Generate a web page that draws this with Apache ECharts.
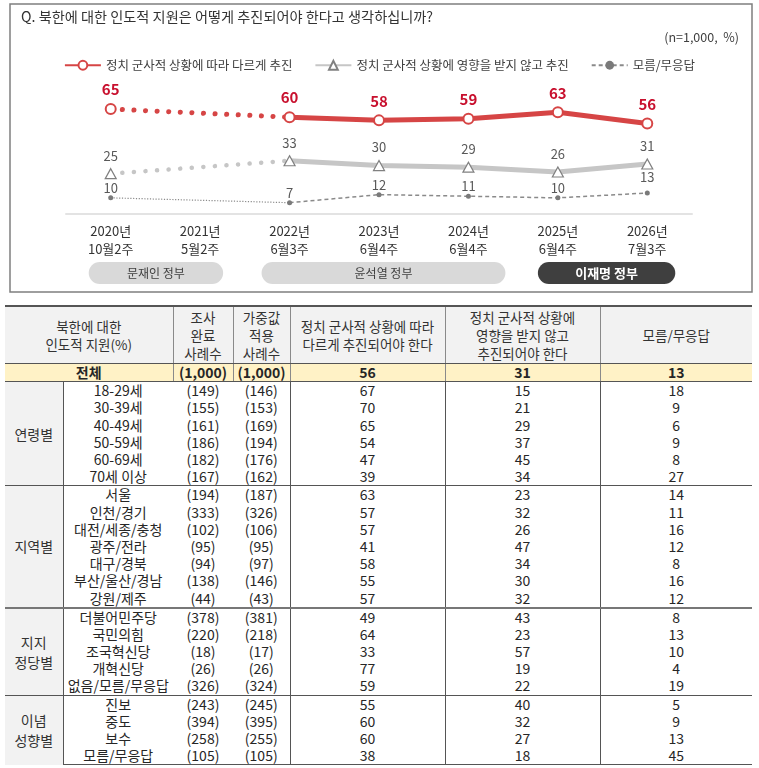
<!DOCTYPE html>
<html><head><meta charset="utf-8">
<script src="https://cdn.jsdelivr.net/npm/echarts@6/dist/echarts.min.js"></script>
<style>
html,body{margin:0;padding:0;background:#fff;width:759px;height:768px;overflow:hidden;font-family:'Noto Sans CJK KR','Noto Sans',sans-serif;}
#chart{position:absolute;left:0;top:0;width:759px;height:300px;}
#tbl{position:absolute;left:5px;top:305px;width:747px;border-collapse:collapse;table-layout:fixed;font-size:14px;color:#262626;}
#tbl td{padding:0;text-align:center;white-space:nowrap;overflow:hidden;line-height:17px;height:17.2px;}
#tbl tr.head td{background:#f2f2f2;line-height:18px;height:56px;border-top:2px solid #555;border-bottom:1.5px solid #555;border-left:1px solid #8a8a8a;color:#333;font-size:13.5px;}
#tbl tr.head td:first-child{border-left:none;}
#tbl tr.total td{background:#fff2c6;font-weight:bold;border-bottom:1px solid #555;border-left:1px solid #8a8a8a;}
#tbl tr.total td:first-child{border-left:none;}
#tbl td.grp{background:#f2f2f2;border-right:1px solid #555;line-height:20px;color:#333;}
#tbl td.sep{border-left:1px solid #555;}
#tbl tr.gstart td{border-top:1px solid #555;}
#tbl tr.gstart2 td{border-top:2px solid #777;}
#tbl tr.last td{border-bottom:1.5px solid #555;}
</style></head><body>
<div id="chart"></div>
<table id="tbl"><colgroup><col style="width:58px"><col style="width:110px"><col style="width:60px"><col style="width:57px"><col style="width:155px"><col style="width:155px"><col style="width:152px"></colgroup><tbody id="tb"></tbody></table>
<script>
// ---------- chart data ----------
const titleText = 'Q. 북한에 대한 인도적 지원은 어떻게 추진되어야 한다고 생각하십니까?';
const noteText = '(n=1,000,  %)';
const periods = ['2020년\n10월2주','2021년\n5월2주','2022년\n6월3주','2023년\n6월4주','2024년\n6월4주','2025년\n6월4주','2026년\n7월3주'];
const seriesNames = ['정치 군사적 상황에 따라 다르게 추진','정치 군사적 상황에 영향을 받지 않고 추진','모름/무응답'];
const conditional = [65, null, 60, 58, 59, 63, 56];
const unconditional = [25, null, 33, 30, 29, 26, 31];
const unknown = [10, null, 7, 12, 11, 10, 13];
const governments = ['문재인 정부','윤석열 정부','이재명 정부'];
const govFirst = [0, 2, 5];
const govLast = [1, 4, 6];

// ---------- table data ----------
const headers = ['북한에 대한<br>인도적 지원(%)','조사<br>완료<br>사례수','가중값<br>적용<br>사례수','정치 군사적 상황에 따라<br>다르게 추진되어야 한다','정치 군사적 상황에<br>영향을 받지 않고<br>추진되어야 한다','모름/무응답'];
const totalRow = ['전체','(1,000)','(1,000)',56,31,13];
const groupNames = ['연령별','지역별','지지<br>정당별','이념<br>성향별'];
const ageRows = [
  ['18-29세',149,146,67,15,18],
  ['30-39세',155,153,70,21,9],
  ['40-49세',161,169,65,29,6],
  ['50-59세',186,194,54,37,9],
  ['60-69세',182,176,47,45,8],
  ['70세 이상',167,162,39,34,27]
];
const regionRows = [
  ['서울',194,187,63,23,14],
  ['인천/경기',333,326,57,32,11],
  ['대전/세종/충청',102,106,57,26,16],
  ['광주/전라',95,95,41,47,12],
  ['대구/경북',94,97,58,34,8],
  ['부산/울산/경남',138,146,55,30,16],
  ['강원/제주',44,43,57,32,12]
];
const partyRows = [
  ['더불어민주당',378,381,49,43,8],
  ['국민의힘',220,218,64,23,13],
  ['조국혁신당',18,17,33,57,10],
  ['개혁신당',26,26,77,19,4],
  ['없음/모름/무응답',326,324,59,22,19]
];
const ideologyRows = [
  ['진보',243,245,55,40,5],
  ['중도',394,395,60,32,9],
  ['보수',258,255,60,27,13],
  ['모름/무응답',105,105,38,18,45]
];

// ---------- build table ----------
(function(){
  const tb = document.getElementById('tb');
  let h = '<tr class="head"><td colspan="2">'+headers[0]+'</td>';
  for (let i=1;i<headers.length;i++) h += '<td>'+headers[i]+'</td>';
  h += '</tr>';
  h += '<tr class="total"><td colspan="2">'+totalRow[0]+'</td>';
  for (let i=1;i<totalRow.length;i++) h += '<td>'+totalRow[i]+'</td>';
  h += '</tr>';
  const groups = [ageRows, regionRows, partyRows, ideologyRows];
  groups.forEach((rows, gi) => {
    rows.forEach((r, ri) => {
      let cls = [];
      if (ri === 0 && gi > 0) cls.push(gi === 2 ? 'gstart2' : 'gstart');
      if (gi === groups.length-1 && ri === rows.length-1) cls.push('last');
      h += '<tr class="'+cls.join(' ')+'">';
      if (ri === 0) h += '<td class="grp" rowspan="'+rows.length+'">'+groupNames[gi]+'</td>';
      h += '<td>'+r[0]+'</td><td>('+r[1]+')</td><td>('+r[2]+')</td>';
      h += '<td class="sep">'+r[3]+'</td><td class="sep">'+r[4]+'</td><td class="sep">'+r[5]+'</td></tr>';
    });
  });
  tb.innerHTML = h;
})();

// ---------- chart ----------
const RED = '#d64545', RED_TXT = '#c8102e', GRAY = '#c6c6c6', GRAY_EDGE = '#808080', DOT = '#8a8a8a';
const FONT = "'Noto Sans CJK KR','Noto Sans',sans-serif";
const toData = a => a.map(v => v == null ? '-' : v);
const firstSpan = a => a.map((v, i) => (i <= 2 && v != null) ? v : '-');

const chart = echarts.init(document.getElementById('chart'), null, {renderer: 'canvas'});
const option = {
  animation: false,
  textStyle: {fontFamily: FONT},
  title: [
    {text: titleText, left: 16, top: 5, textStyle: {fontSize: 14.2, fontWeight: 'normal', color: '#333', fontFamily: FONT}},
    {text: noteText, right: 15, top: 26, textStyle: {fontSize: 12.5, fontWeight: 'normal', color: '#404040', fontFamily: FONT}}
  ],
  legend: {
    data: seriesNames, top: 54, left: 'center', itemWidth: 36, itemHeight: 11, itemGap: 22,
    textStyle: {fontSize: 12.5, color: '#404040', fontFamily: FONT}
  },
  grid: {left: 66, right: 67, top: 101, bottom: 86},
  xAxis: {
    type: 'category', data: periods, boundaryGap: true,
    axisLine: {lineStyle: {color: '#e3e3e3', width: 2}},
    axisTick: {show: false},
    axisLabel: {fontSize: 13, color: '#333', lineHeight: 18, margin: 8, fontFamily: FONT}
  },
  yAxis: {type: 'value', min: 0, max: 70, show: false},
  series: [
    {name: 'red-dotted', type: 'line', data: firstSpan(conditional), connectNulls: true, symbol: 'none', silent: true, z: 1,
      lineStyle: {color: RED, width: 5, type: [0.1, 11.5], cap: 'round'}},
    {name: 'gray-dotted', type: 'line', data: firstSpan(unconditional), connectNulls: true, symbol: 'none', silent: true, z: 1,
      lineStyle: {color: GRAY, width: 4.5, type: [0.1, 11.5], cap: 'round'}},
    {name: 'dot-dotted', type: 'line', data: firstSpan(unknown), connectNulls: true, symbol: 'none', silent: true, z: 1,
      lineStyle: {color: DOT, width: 1.2, type: [1.2, 1.6]}},
    {name: seriesNames[0], type: 'line', data: toData(conditional), connectNulls: false, z: 4,
      symbol: 'circle', symbolSize: 10, showSymbol: true,
      lineStyle: {color: RED, width: 5},
      itemStyle: {color: '#fff', borderColor: RED, borderWidth: 2},
      label: {show: true, position: 'top', distance: 6, color: RED_TXT, fontWeight: 'bold', fontSize: 15, fontFamily: FONT}},
    {name: seriesNames[1], type: 'line', data: toData(unconditional), connectNulls: false, z: 3,
      symbol: 'triangle', symbolSize: [11, 10], showSymbol: true,
      lineStyle: {color: GRAY, width: 5},
      itemStyle: {color: '#fff', borderColor: GRAY_EDGE, borderWidth: 1.2},
      label: {show: true, position: 'top', distance: 6, color: '#595959', fontSize: 13, fontFamily: FONT}},
    {name: seriesNames[2], type: 'line', connectNulls: false, z: 2,
      data: unknown.map((v, i) => v == null ? '-' : (i === unknown.length - 1 ? {value: v, label: {distance: 7}} : v)),
      symbol: 'circle', symbolSize: 5, showSymbol: true,
      lineStyle: {color: DOT, width: 1.5, type: [4, 3]},
      itemStyle: {color: '#7a7a7a'},
      label: {show: true, position: 'top', distance: 1, color: '#595959', fontSize: 13, fontFamily: FONT}}
  ]
};
chart.setOption(option);

// decorations: outer box and government pills positioned from the category axis
const pillPad = [[22, 23], [28, 37], [20, 28]];
const graphics = [{type: 'rect', shape: {x: 10, y: 4, width: 742, height: 288}, style: {fill: 'none', stroke: '#7f7f7f', lineWidth: 1.5}, silent: true}];
governments.forEach((g, i) => {
  const x0 = chart.convertToPixel({xAxisIndex: 0}, govFirst[i]) - pillPad[i][0];
  const x1 = chart.convertToPixel({xAxisIndex: 0}, govLast[i]) + pillPad[i][1];
  const dark = i === governments.length - 1;
  graphics.push({type: 'rect', shape: {x: x0, y: 262, width: x1 - x0, height: 22, r: 11},
    style: {fill: dark ? '#3f3f3f' : '#d9d9d9'}, silent: true});
  graphics.push({type: 'text', x: (x0 + x1) / 2, y: 273,
    style: {text: g, fill: dark ? '#fff' : '#404040', fontSize: dark ? 13 : 12, fontWeight: dark ? 'bold' : 'normal', fontFamily: FONT, align: 'center', verticalAlign: 'middle'}, silent: true});
});
chart.setOption({graphic: graphics});
</script>
</body></html>
